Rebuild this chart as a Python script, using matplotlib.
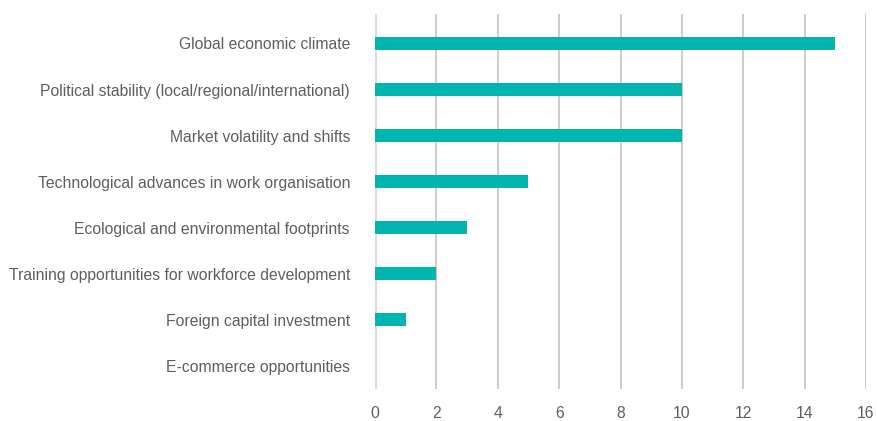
import matplotlib
matplotlib.use("Agg")
import matplotlib.pyplot as plt

categories = [
    "Global economic climate",
    "Political stability (local/regional/international)",
    "Market volatility and shifts",
    "Technological advances in work organisation",
    "Ecological and environmental footprints",
    "Training opportunities for workforce development",
    "Foreign capital investment",
    "E-commerce opportunities",
]
values = [15, 10, 10, 5, 3, 2, 1, 0]
xticks = [0, 2, 4, 6, 8, 10, 12, 14, 16]

plt.rcParams['font.family'] = ['Liberation Sans', 'DejaVu Sans']

fig = plt.figure(figsize=(8.77, 4.21), dpi=100)
ax = fig.add_axes([375/877, 1-389/421, (866-375)/877, (389-14)/421])

y = list(range(len(categories)))
ax.barh(y, values, height=0.28, color="#00b5ad", zorder=3)

ax.set_xlim(0, 16)
ax.set_ylim(7.5, -0.64)
ax.set_xticks(xticks)
ax.set_xticklabels([str(t) for t in xticks])
ax.set_yticks(y)
ax.set_yticklabels(categories)

for t in xticks:
    ax.axvline(t, color="#dcdcdc" if t == 0 else "#c4c4c4", lw=2.2 if t == 0 else 1.2, zorder=1)

for s in ax.spines.values():
    s.set_visible(False)

ax.tick_params(axis='x', length=0, pad=12, labelsize=11.3, labelcolor="#5e5e5e")
ax.tick_params(axis='y', length=0, pad=18, labelsize=11.3, labelcolor="#5e5e5e")

fig.savefig("out.png", dpi=100)
